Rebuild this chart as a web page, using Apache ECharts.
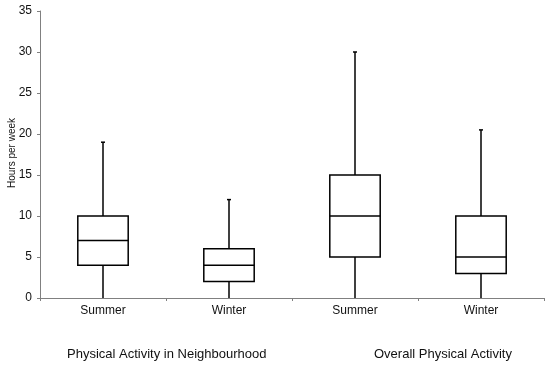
<!DOCTYPE html>
<html><head><meta charset="utf-8">
<script src="https://cdn.jsdelivr.net/npm/echarts@6/dist/echarts.min.js"></script>
<style>html,body{margin:0;padding:0;background:#fff}#c{width:550px;height:368px}</style>
</head><body><div id="c"></div>
<script>
var categories = ['Summer', 'Winter', 'Summer ', 'Winter '];
var whiskerLow = [0, 0, 0, 0];
var q1 = [4, 2, 5, 3];
var median = [7, 4, 10, 5];
var q3 = [10, 6, 15, 10];
var whiskerHigh = [19, 12, 30, 20.5];
var groupLabels = ['Physical Activity in Neighbourhood', 'Overall Physical Activity'];
var yAxisName = 'Hours per week';
var yTicks = [0, 5, 10, 15, 20, 25, 30, 35];

var data = categories.map(function (c, i) {
  return [i, whiskerLow[i], q1[i], median[i], q3[i], whiskerHigh[i]];
});

var chart = echarts.init(document.getElementById('c'), null, {renderer: 'canvas'});
var font = 'Liberation Sans, Arial, sans-serif';
chart.setOption({
  animation: false,
  grid: {left: 40, right: 6, top: 11, bottom: 70, containLabel: false, outerBoundsMode: 'none'},
  xAxis: {
    type: 'category', data: categories,
    axisLine: {lineStyle: {color: '#808080', width: 1}},
    axisTick: {show: true, length: 3, lineStyle: {color: '#808080'}},
    axisLabel: {color: '#111', fontFamily: font, fontSize: 12, margin: 7,
      formatter: function (v) { return v.trim(); }},
    splitLine: {show: false}
  },
  yAxis: {
    type: 'value', min: 0, max: 35, interval: 5,
    axisLine: {show: true, lineStyle: {color: '#808080', width: 1}},
    axisTick: {show: true, length: 3, lineStyle: {color: '#808080'}},
    axisLabel: {color: '#111', fontFamily: font, fontSize: 12, margin: 8},
    splitLine: {show: false}
  },
  graphic: [
    {type: 'text', x: 12, y: 153, rotation: Math.PI / 2,
      style: {text: yAxisName, fill: '#111', font: '10px ' + font, align: 'center', verticalAlign: 'middle'}},
    {type: 'text', left: 67, top: 348, style: {text: groupLabels[0], fill: '#111', font: '13px ' + font}},
    {type: 'text', left: 374, top: 348, style: {text: groupLabels[1], fill: '#111', font: '13px ' + font}}
  ],
  series: [{
    type: 'custom',
    data: data,
    encode: {x: 0, y: [1, 2, 3, 4, 5]},
    renderItem: function (params, api) {
      var x = api.value(0);
      var lo = api.coord([x, api.value(1)]);
      var b1 = api.coord([x, api.value(2)]);
      var md = api.coord([x, api.value(3)]);
      var b3 = api.coord([x, api.value(4)]);
      var hi = api.coord([x, api.value(5)]);
      var bw = api.size([1, 0])[0] * 0.4;
      var cx = lo[0];
      var st = {stroke: '#000', lineWidth: 1.5, fill: null};
      return {type: 'group', children: [
        {type: 'line', shape: {x1: cx, y1: lo[1], x2: cx, y2: b1[1]}, style: st},
        {type: 'line', shape: {x1: cx, y1: b3[1], x2: cx, y2: hi[1]}, style: st},
        {type: 'line', shape: {x1: cx - 2, y1: hi[1], x2: cx + 2, y2: hi[1]}, style: st},
        {type: 'rect', shape: {x: cx - bw / 2, y: b3[1], width: bw, height: b1[1] - b3[1]}, style: {stroke: '#000', lineWidth: 1.5, fill: '#fff'}},
        {type: 'line', shape: {x1: cx - bw / 2, y1: md[1], x2: cx + bw / 2, y2: md[1]}, style: st}
      ]};
    }
  }]
});
</script></body></html>
